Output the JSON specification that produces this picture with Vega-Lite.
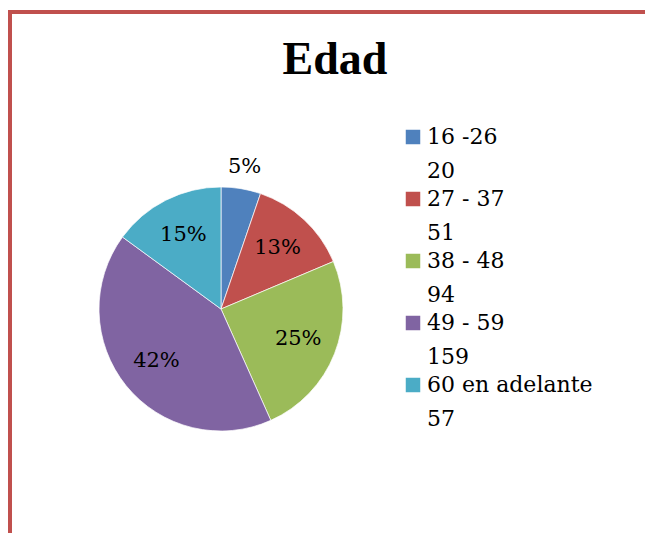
{
  "$schema": "https://vega.github.io/schema/vega-lite/v6.json",
  "autosize": "none",
  "width": 650,
  "height": 530,
  "padding": {"left": 10, "top": 12, "right": 0, "bottom": 0},
  "background": "white",
  "title": {
    "text": "Edad",
    "font": "Liberation Serif",
    "fontSize": 46,
    "fontWeight": "bold",
    "color": "black",
    "anchor": "middle",
    "frame": "group",
    "offset": 0,
    "baseline": "alphabetic",
    "dy": 108
  },
  "data": {
    "values": [
      {"grupo": "16 -26", "n": 20, "pct": "5%"},
      {"grupo": "27 - 37", "n": 51, "pct": "13%"},
      {"grupo": "38 - 48", "n": 94, "pct": "25%"},
      {"grupo": "49 - 59", "n": 159, "pct": "42%"},
      {"grupo": "60 en adelante", "n": 57, "pct": "15%"}
    ]
  },
  "transform": [
    {"calculate": "datum.grupo + '|' + datum.n", "as": "etiqueta"}
  ],
  "encoding": {
    "theta": {"field": "n", "type": "quantitative", "stack": true},
    "order": {"field": "grupo", "type": "ordinal", "sort": "ascending"},
    "x": {"value": 211},
    "y": {"value": 297}
  },
  "layer": [
    {
      "mark": {"type": "arc", "outerRadius": 122, "stroke": "white", "strokeWidth": 0.7},
      "encoding": {
        "color": {
          "field": "etiqueta",
          "type": "nominal",
          "scale": {"range": ["#4f81bd", "#c0504d", "#9bbb59", "#8064a2", "#4bacc6"]},
          "legend": {
            "title": null,
            "orient": "none",
            "legendX": 392,
            "legendY": 114,
            "symbolType": "square",
            "symbolSize": 210,
            "symbolStrokeWidth": 0,
            "labelFont": "DejaVu Serif",
            "labelFontSize": 22,
            "labelColor": "black",
            "labelOffset": 3,
            "labelLimit": 300,
            "rowPadding": 6,
            "labelExpr": "split(datum.label, '|')"
          }
        }
      }
    },
    {
      "mark": {"type": "text", "radius": 83, "font": "DejaVu Serif", "fontSize": 21, "color": "black"},
      "encoding": {
        "text": {"condition": {"test": "datum.grupo === '16 -26'", "value": ""}, "field": "pct", "type": "nominal"}
      }
    },
    {
      "mark": {"type": "text", "radius": 144, "font": "DejaVu Serif", "fontSize": 21, "color": "black"},
      "encoding": {
        "text": {"condition": {"test": "datum.grupo !== '16 -26'", "value": ""}, "field": "pct", "type": "nominal"}
      }
    }
  ],
  "config": {
    "view": {"stroke": "#c0504d", "strokeWidth": 4},
    "style": {"guide-label": {"lineHeight": 34}}
  }
}
